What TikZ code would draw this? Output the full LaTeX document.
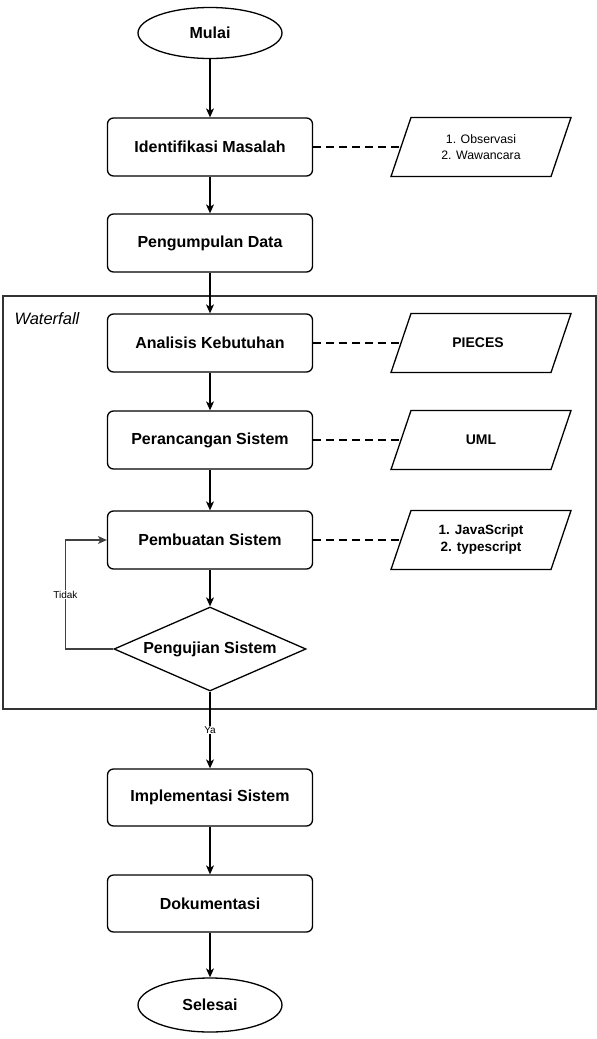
\documentclass[tikz,border=0pt]{standalone}
\usepackage{fontspec}
\setmainfont{Liberation Sans}
\usetikzlibrary{shapes.geometric,arrows.meta}
\begin{document}
\begin{tikzpicture}[x=1pt,y=-1pt,
  base/.style={draw=black, line width=1.3pt, fill=white, font=\bfseries\fontsize{16}{19}\selectfont, inner sep=0pt},
  proc/.style={base, rounded corners=6pt, minimum width=205pt, minimum height=58pt},
  term/.style={base, ellipse, minimum width=144pt, minimum height=51pt},
  decis/.style={base, diamond, aspect=2.3, minimum width=192pt, minimum height=84pt},
  arr/.style={line width=1.1pt, -{Stealth[length=9pt,width=8pt,inset=2.5pt]}},
  loopline/.style={arr, draw=black!75},
  dline/.style={line width=1.5pt, dash pattern=on 8pt off 5pt},
  iobox/.style={line width=1.3pt, draw=black, fill=white, line join=miter},
  iotext/.style={align=center},
  lbl/.style={fill=white, font=\fontsize{10}{12}\selectfont, inner sep=1pt}
]
\path[use as bounding box] (0,0) rectangle (597,1039);

% waterfall frame
\node[draw=black!80, line width=1.6pt, minimum width=593pt, minimum height=413pt, anchor=north west, inner sep=0pt] (wf) at (2,295) {};
\node[anchor=west, font=\itshape\fontsize{16.5}{19}\selectfont] (wflabel) at (11,319) {Waterfall};

% main column
\node[term] (mulai) at (210,33) {Mulai};
\node[proc] (ident) at (210,147) {Identifikasi Masalah};
\node[proc] (pengum) at (210,243) {Pengumpulan Data};
\node[proc] (anal) at (210,343) {Analisis Kebutuhan};
\node[proc] (peran) at (210,440) {Perancangan Sistem};
\node[proc] (pemb) at (210,540) {Pembuatan Sistem};
\node[decis] (uji) at (210,649) {Pengujian Sistem};
\node[proc, minimum height=57pt] (impl) at (210,797.5) {Implementasi Sistem};
\node[proc, minimum height=57pt] (doku) at (210,903.5) {Dokumentasi};
\node[term, minimum height=54pt] (selesai) at (210,1005) {Selesai};

% parallelograms
\foreach \n/\yc in {p1/147, p2/343, p3/440, p4/540}{
  \draw[iobox] (411,\yc-29.5) -- (571,\yc-29.5) -- (551,\yc+29.5) -- (391,\yc+29.5) -- cycle;
  \coordinate (\n) at (401,\yc);
}
\node[iotext, font=\fontsize{12.3}{15.5}\selectfont] (t1) at (481,147) {1. Observasi\\2. Wawancara};
\node[iotext, font=\bfseries\fontsize{14}{17}\selectfont] (t2) at (478,343) {PIECES};
\node[iotext, font=\bfseries\fontsize{14}{17}\selectfont] (t3) at (481,440) {UML};
\node[iotext, font=\bfseries\fontsize{13.5}{17}\selectfont] (t4) at (481,540) {1. JavaScript\\2. typescript};

% dashed connectors
\draw[dline] (ident.east) -- (p1);
\draw[dline] (anal.east) -- (p2);
\draw[dline] (peran.east) -- (p3);
\draw[dline] (pemb.east) -- (p4);

% arrows
\draw[arr] (mulai) -- (ident);
\draw[arr] (ident) -- (pengum);
\draw[arr] (pengum) -- (anal);
\draw[arr] (anal) -- (peran);
\draw[arr] (peran) -- (pemb);
\draw[arr] (pemb) -- (uji);
\draw[arr] (uji.south) -- node[lbl] (ya) {Ya} (impl.north);
\draw[arr] (impl) -- (doku);
\draw[arr] (doku) -- (selesai);
\draw[loopline] (uji.west) -- ++(-48,0) |- node[lbl, pos=0.25] (tidak) {Tidak} (pemb.west);
\end{tikzpicture}
\end{document}
